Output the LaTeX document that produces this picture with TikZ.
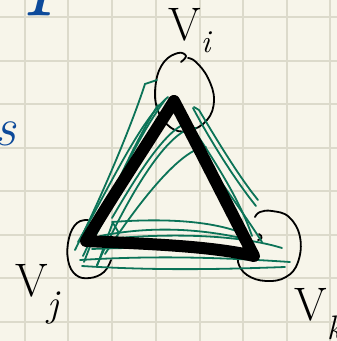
\documentclass[tikz,border=0pt]{standalone}
\usepackage{tikz}
\definecolor{paper}{HTML}{F7F5EA}
\definecolor{gridc}{HTML}{DCDACB}
\definecolor{inkgreen}{HTML}{0B7357}
\definecolor{inkblue}{HTML}{0D4A9A}
\tikzset{
  gridline/.style={draw=gridc, line width=1.3pt},
  edgeline/.style={draw=black, line width=12pt, line cap=round, line join=round},
  loopline/.style={draw=black, line width=1.8pt, line cap=round},
  scribble/.style={draw=inkgreen, line width=1.8pt, line cap=round},
  lab/.style={inner sep=0pt, font=\fontsize{47}{47}\selectfont},
  bluetext/.style={inner sep=0pt, text=inkblue, font=\fontsize{110}{110}\selectfont\itshape}
}
\begin{document}
\begin{tikzpicture}[x=1pt,y=-1pt]
\fill[paper] (0,0) rectangle (337,341);
\useasboundingbox (0,0) rectangle (337,341);
% grid
\foreach \gx in {25,68,112,156,200,243,287,330} \draw[gridline] (\gx,0) -- (\gx,341);
\foreach \gy in {17,61,104,148,191,235,278,322} \draw[gridline] (0,\gy) -- (337,\gy);
% blue text fragments
\node[bluetext, anchor=base west] (frag1) at (-62,-6) {mple};
\node[bluetext, anchor=base east, font=\fontsize{54}{54}\selectfont\itshape] (frag2) at (16,145) {s};
% vertices
\coordinate (vi) at (174,101);
\coordinate (vj) at (86,241);
\coordinate (vk) at (254,256);
% loops
\draw[loopline] plot[smooth, tension=0.7] coordinates {(181,62) (186,56) (178,53) (164,62) (156,82) (157,108) (170,127) (188,131) (207,120) (214,100) (208,78) (196,62) (188,58)};
\draw[loopline] plot[smooth, tension=0.7] coordinates {(88,220) (77,223) (69,238) (68,260) (76,275) (90,278) (104,272) (111,260)};
\draw[loopline] plot[smooth, tension=0.7] coordinates {(255,217) (260,212) (272,211) (289,217) (300,237) (298,262) (286,277) (266,281) (247,275) (238,262) (240,250)};
\draw[loopline] (259,234) .. controls (263,236) and (262,240) .. (258,240);
% green scribbles
\draw[scribble] (157,80) -- (145,84) .. controls (130,130) and (100,200) .. (75,250);
\draw[scribble] (168,97) .. controls (140,120) and (108,190) .. (78,242);
\draw[scribble] (165,100) .. controls (135,140) and (105,210) .. (83,256);
\draw[scribble] (172,103) .. controls (140,150) and (112,205) .. (90,246);
\draw[scribble] (158,105) .. controls (130,150) and (100,220) .. (84,262);
\draw[scribble] (196,128) .. controls (176,126) and (140,170) .. (97,265);
\draw[scribble] (206,147) .. controls (182,148) and (140,200) .. (105,254);
\draw[scribble] (186,123) .. controls (165,132) and (140,170) .. (112,218);
\draw[scribble] (193,108) .. controls (210,140) and (235,180) .. (256,206);
\draw[scribble] (194,107) -- (199,110) .. controls (218,142) and (240,178) .. (258,200);
\draw[scribble] (190,124) .. controls (214,160) and (240,200) .. (252,236);
\draw[scribble] (186,131) .. controls (212,170) and (245,215) .. (262,242);
\draw[scribble] (112,222) .. controls (180,217) and (222,224) .. (247,235);
\draw[scribble] (97,240) .. controls (170,232) and (240,235) .. (282,248);
\draw[scribble] (80,260) .. controls (160,255) and (230,258) .. (290,262);
\draw[scribble] (82,266) .. controls (160,271) and (230,269) .. (285,267);
\draw[scribble] (92,249) .. controls (160,246) and (215,250) .. (252,252);
\draw[scribble] (113,222) -- (97,266);
\draw[scribble] (113,223) -- (119,233);
\draw[scribble] (100,236) .. controls (150,226) and (200,228) .. (250,240);
% black triangle
\draw[edgeline] (vi) .. controls (150,140) and (110,200) .. (vj)
  .. controls (150,244) and (210,246) .. (vk)
  .. controls (230,210) and (200,150) .. (vi);
% labels
\node[lab, anchor=base west] (labi) at (168,40) {V\raisebox{-12pt}{\fontsize{32}{32}\selectfont\itshape i}};
\node[lab, anchor=base west] (labj) at (15,296) {V\raisebox{-20pt}{\fontsize{38}{38}\selectfont\itshape j}};
\node[lab, anchor=base west] (labk) at (294,320) {V\raisebox{-19pt}{\fontsize{34}{34}\selectfont\itshape k}};
\end{tikzpicture}
\end{document}
